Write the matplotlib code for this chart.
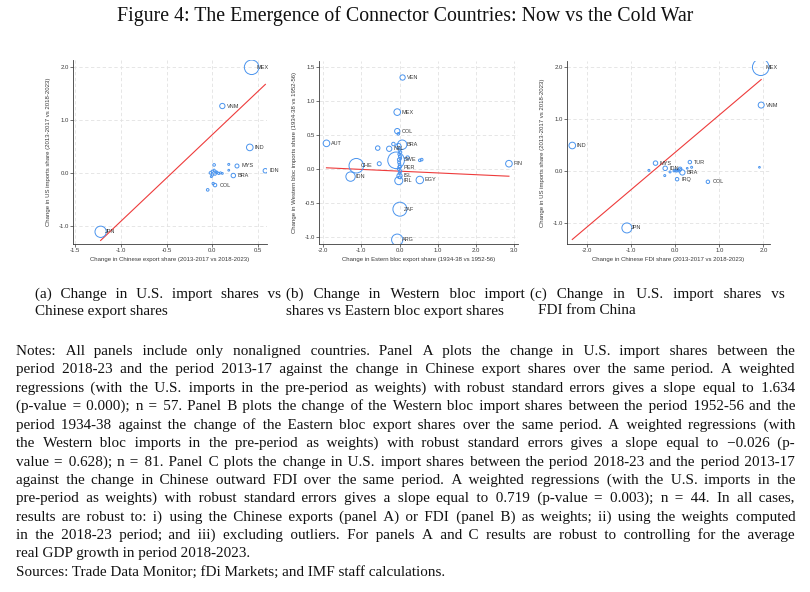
import matplotlib
matplotlib.use('Agg')
import matplotlib.pyplot as plt
import numpy as np

W, H = 810, 592
plt.rcParams['axes.unicode_minus'] = False
plt.rcParams['font.family'] = 'Liberation Sans'

BLUE = '#4a94ee'
RED = '#ee3b3b'
INK = '#3a3a3a'

# ---------------------------------------------------------------
# Panel A: US import share vs Chinese export share
# ---------------------------------------------------------------
a_lab = ['MEX', 'VNM', 'IND', 'IDN', 'MYS', 'BRA', 'COL', 'JPN',
         '', '', '', '', '',
         '', '', '', '', '', '', '', '', '', '', '']
a_x = [0.43, 0.11, 0.41, 0.58, 0.27, 0.23, 0.03, -1.22,
       0.01, -0.05, 0.02, 0.18, 0.18,
       -0.02, 0.00, 0.02, 0.03, 0.05, 0.07, 0.09, 0.00, 0.04, 0.11, -0.01]
a_y = [2.00, 1.27, 0.49, 0.05, 0.14, -0.04, -0.22, -1.10,
       -0.19, -0.31, 0.16, 0.17, 0.06,
       0.01, 0.04, 0.06, -0.01, 0.02, 0.00, 0.01, -0.03, 0.03, 0.00, -0.06]
a_w = [53, 7, 11, 5, 4, 5, 3, 32,
       1.4, 1.7, 1.7, 1.0, 0.8,
       1.7, 1.4, 1.2, 1.7, 1.4, 1.2, 1.0, 1.4, 1.0, 0.8, 1.0]
a_slope, a_icpt = 1.634, 0.73

# ---------------------------------------------------------------
# Panel B: Western bloc import share vs Eastern bloc export share
# ---------------------------------------------------------------
b_lab = ['VEN', 'MEX', 'COL', '', 'AUT', 'BRA', '', '', '', 'NZL', '',
         'SWE', '', '', '', '', 'FIN', 'CHE', 'PER',
         '', '', '', '', '', '', '', '', '', '', '', '',
         'IDN', 'ISL', 'EGY', 'IRL', 'ZAF', 'ARG']
b_x = [0.08, -0.06, -0.06, -0.03, -1.91, 0.07, -0.03, -0.57, -0.16, -0.27, -0.09,
       -0.01, 0.21, 0.53, 0.58, -0.53, 2.86, -1.13, 0.00,
       0.00, 0.02, -0.01, 0.01, 0.02, -0.01, 0.00, 0.01, -0.02, 0.02, 0.00, 0.01,
       -1.28, 0.00, 0.53, -0.02, 0.01, -0.06]
b_y = [1.35, 0.84, 0.56, 0.52, 0.38, 0.36, 0.34, 0.31, 0.37, 0.30, 0.13,
       0.14, 0.17, 0.13, 0.14, 0.08, 0.08, 0.05, 0.03,
       0.28, 0.25, 0.22, 0.19, 0.16, 0.10, 0.07, 0.04, 0.00, -0.03, -0.06, -0.12,
       -0.11, -0.10, -0.16, -0.17, -0.59, -1.04]
b_w = [7, 11, 7, 1.7, 11, 22, 7, 5, 3, 7, 69,
       3, 3, 1.7, 1.7, 4, 11, 53, 3,
       1.7, 2.2, 1.7, 2.2, 1.7, 2.2, 1.7, 2.2, 1.7, 2.2, 1.7, 2.2,
       22, 7, 14, 16, 49, 32]
b_slope, b_icpt = -0.026, -0.03

# ---------------------------------------------------------------
# Panel C: US import share vs Chinese FDI share
# ---------------------------------------------------------------
c_lab = ['MEX', 'VNM', 'IND', 'MYS', '', 'IDN', '', '',
         '', '', '', '', '', '',
         'BRA', '', 'TUR', '', '', 'IRQ', 'COL', '', 'JPN']
c_x = [1.94, 1.95, -2.34, -0.45, -0.60, -0.23, -0.24, -0.12,
       0.00, 0.03, 0.06, 0.09, 0.12, -0.03,
       0.16, 0.11, 0.33, 0.37, 0.27, 0.04, 0.74, 1.91, -1.10]
c_y = [2.00, 1.27, 0.49, 0.15, 0.01, 0.05, -0.09, -0.02,
       0.01, 0.00, 0.02, 0.00, 0.03, 0.00,
       -0.03, 0.04, 0.17, 0.07, 0.05, -0.16, -0.21, 0.07, -1.10]
c_w = [69, 9, 11, 5, 1.0, 5, 1.0, 1.0,
       1.7, 1.4, 1.0, 1.4, 1.0, 1.0,
       7, 3, 3, 1.0, 0.7, 3, 3, 0.7, 25]
c_slope, c_icpt = 0.719, 0.36

panels = [
    dict(x=a_x, y=a_y, w=a_w, lab=a_lab, slope=a_slope, icpt=a_icpt,
         box=(73, 267, 60, 244), xlim=(-1.522, 0.598), ylim=(-1.33, 2.137),
         xticks=[-1.5, -1.0, -0.5, 0.0, 0.5], yticks=[-1.0, 0.0, 1.0, 2.0],
         xlabel='Change in Chinese export share (2013-2017 vs 2018-2023)',
         ylabel='Change in US imports share (2013-2017 vs 2018-2023)'),
    dict(x=b_x, y=b_y, w=b_w, lab=b_lab, slope=b_slope, icpt=b_icpt,
         box=(319, 518, 61, 244), xlim=(-2.105, 3.097), ylim=(-1.103, 1.593),
         xticks=[-2.0, -1.0, 0.0, 1.0, 2.0, 3.0], yticks=[-1.0, -0.5, 0.0, 0.5, 1.0, 1.5],
         xlabel='Change in Estern bloc export share (1934-38 vs 1952-56)',
         ylabel='Change in Western bloc imports share (1934-38 vs 1952-56)'),
    dict(x=c_x, y=c_y, w=c_w, lab=c_lab, slope=c_slope, icpt=c_icpt,
         box=(567, 770, 61, 244), xlim=(-2.46, 2.15), ylim=(-1.41, 2.12),
         xticks=[-2.0, -1.0, 0.0, 1.0, 2.0], yticks=[-1.0, 0.0, 1.0, 2.0],
         xlabel='Change in Chinese FDI share (2013-2017 vs 2018-2023)',
         ylabel='Change in US imports share (2013-2017 vs 2018-2023)'),
]

fig = plt.figure(figsize=(W / 100, H / 100), dpi=100, facecolor='white')

for p in panels:
    l, r, t, b = p['box']
    ax = fig.add_axes([l / W, 1 - b / H, (r - l) / W, (b - t) / H])
    ax.set_xlim(*p['xlim'])
    ax.set_ylim(*p['ylim'])
    ax.set_xticks(p['xticks'])
    ax.set_yticks(p['yticks'])
    ax.set_xticklabels([f'{v:.1f}' for v in p['xticks']])
    ax.set_yticklabels([f'{v:.1f}' for v in p['yticks']])
    ax.grid(True, color='#e2e2e2', lw=0.6, ls=(0, (4, 3)))
    ax.set_axisbelow(True)
    for s in ['top', 'right']:
        ax.spines[s].set_visible(False)
    for s in ['left', 'bottom']:
        ax.spines[s].set_color(INK)
        ax.spines[s].set_linewidth(0.6)
    ax.tick_params(direction='out', length=2.2, width=0.5, pad=0.8,
                   labelsize=4.3, colors=INK)

    x = np.array(p['x'])
    y = np.array(p['y'])
    sizes = 2.07 * np.array(p['w'])
    ax.scatter(x, y, s=sizes, facecolors='none', edgecolors=BLUE,
               linewidths=0.7, zorder=3)
    for xi, yi, lb in zip(x, y, p['lab']):
        if lb:
            ax.annotate(lb, (xi, yi), xytext=(3.2, 0), textcoords='offset points',
                        ha='left', va='center', fontsize=4.0, color=INK, zorder=4)

    xs = np.array([x.min(), x.max()])
    ax.plot(xs, p['slope'] * xs + p['icpt'], color=RED, lw=0.8, zorder=2)

    ax.set_xlabel(p['xlabel'], fontsize=4.3, color=INK, labelpad=3)
    ax.set_ylabel(p['ylabel'], fontsize=4.3, color=INK, labelpad=5.5)

# ---------------------------------------------------------------
# text blocks (serif, justified like the LaTeX page)
# ---------------------------------------------------------------
SERIF = ['Liberation Serif', 'DejaVu Serif']
HAIR = '\u200a'
renderer = fig.canvas.get_renderer()


def text_w(s, size):
    t = fig.text(0, 0, s, fontsize=size, family=SERIF)
    w = t.get_window_extent(renderer).width
    t.remove()
    return w


def put_line(s, x0, x1, y, size, justify=True):
    # one Text per line; inter-word gaps built from hair spaces
    if not justify:
        fig.text(x0 / W, 1 - y / H, s, fontsize=size, family=SERIF,
                 color='#111111', va='baseline', ha='left')
        return
    words = s.split(' ')
    hair = (text_w('a' + HAIR * 40 + 'a', size) - text_w('aa', size)) / 40
    words_w = sum(text_w(wd, size) for wd in words)
    gap = (x1 - x0 - words_w) / (len(words) - 1)
    out = words[0]
    for i, wd in enumerate(words[1:]):
        k = round((i + 1) * gap / hair) - round(i * gap / hair)
        out += HAIR * max(k, 1) + wd
    fig.text(x0 / W, 1 - y / H, out, fontsize=size, family=SERIF,
             color='#111111', va='baseline', ha='left')


fig.text(0.5, 1 - 21 / H,
         'Figure 4: The Emergence of Connector Countries: Now vs the Cold War',
         ha='center', va='baseline', fontsize=14.3, family=SERIF, color='#111111')

notes = [
    'Notes: All panels include only nonaligned countries. Panel A plots the change in U.S. import shares between the',
    'period 2018-23 and the period 2013-17 against the change in Chinese export shares over the same period. A weighted',
    'regressions (with the U.S. imports in the pre-period as weights) with robust standard errors gives a slope equal to 1.634',
    '(p-value = 0.000); n = 57. Panel B plots the change of the Western bloc import shares between the period 1952-56 and the',
    'period 1934-38 against the change of the Eastern bloc export shares over the same period. A weighted regressions (with',
    'the Western bloc imports in the pre-period as weights) with robust standard errors gives a slope equal to \u22120.026 (p-',
    'value = 0.628); n = 81. Panel C plots the change in U.S. import shares between the period 2018-23 and the period 2013-17',
    'against the change in Chinese outward FDI over the same period. A weighted regressions (with the U.S. imports in the',
    'pre-period as weights) with robust standard errors gives a slope equal to 0.719 (p-value = 0.003); n = 44. In all cases,',
    'results are robust to: i) using the Chinese exports (panel A) or FDI (panel B) as weights; ii) using the weights computed',
    'in the 2018-23 period; and iii) excluding outliers. For panels A and C results are robust to controlling for the average',
    'real GDP growth in period 2018-2023.',
    'Sources: Trade Data Monitor; fDi Markets; and IMF staff calculations.',
]

# pick the size so the tightest justified line fits with a little slack
widest = max(text_w(ln, 10) for ln in notes[:-2])
body = 10 * (795 - 16) * 0.95 / widest

put_line('(a) Change in U.S. import shares vs', 35, 281, 298, body)
put_line('Chinese export shares', 35, 281, 314.5, body, justify=False)
put_line('(b) Change in Western bloc import', 286, 525, 298, body)
put_line('shares vs Eastern bloc export shares', 286, 525, 314.5, body, justify=False)
put_line('(c) Change in U.S. import shares vs', 530, 785, 298, body)
put_line('FDI from China', 538, 785, 314.5, body, justify=False)

for i, line in enumerate(notes):
    put_line(line, 16, 795, 355 + i * 18.4, body, justify=i < len(notes) - 2)

fig.savefig('out.png', dpi=100, facecolor='white')
